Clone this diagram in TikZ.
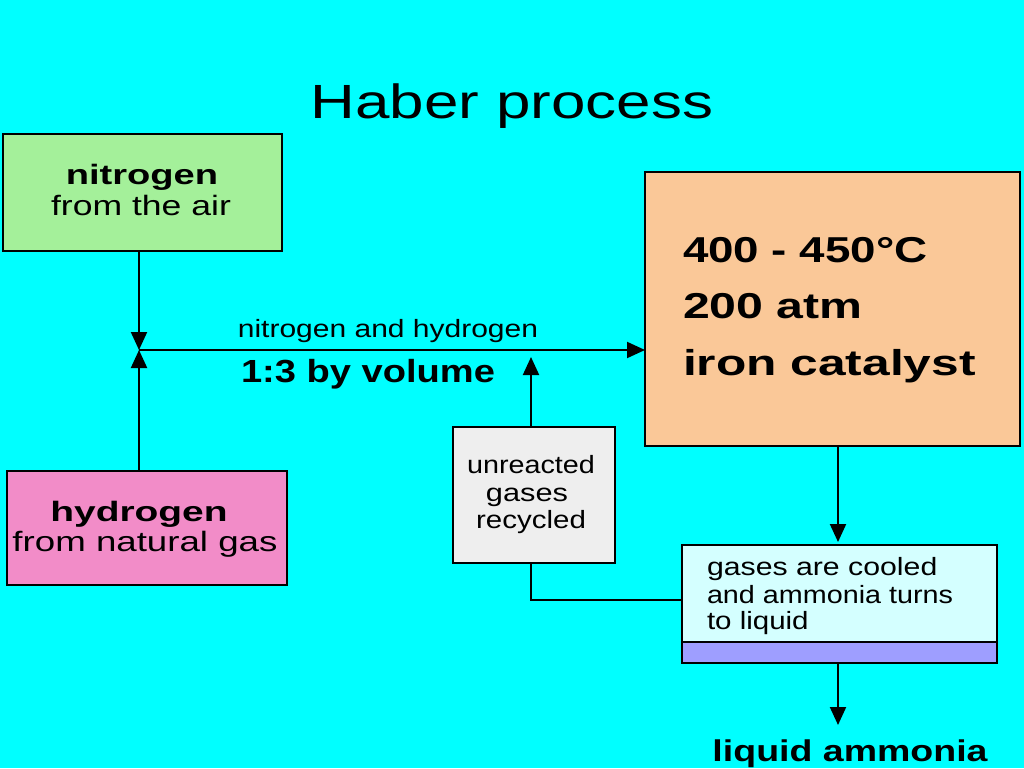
\documentclass[tikz,border=0pt]{standalone}
\usepackage{fontspec}
\setmainfont{Liberation Sans}
\usepackage{graphicx}
\usetikzlibrary{arrows.meta}
\definecolor{bg}{RGB}{0,255,255}
\definecolor{ngreen}{RGB}{164,240,154}
\definecolor{hpink}{RGB}{242,140,200}
\definecolor{opeach}{RGB}{250,200,152}
\definecolor{rgray}{RGB}{238,238,238}
\definecolor{ccyan}{RGB}{212,255,255}
\definecolor{cstrip}{RGB}{158,158,255}
\newcommand{\myfs}[1]{\fontsize{#1}{#1}\selectfont}
\newcommand{\xsc}[2]{\scalebox{#1}[1]{#2}}
\tikzset{
  box/.style={draw=black, line width=2.2pt, rectangle, inner sep=0pt, outer sep=0pt},
  txt/.style={anchor=base, inner sep=0pt, outer sep=0pt, text=black},
  ltxt/.style={anchor=base west, inner sep=0pt, outer sep=0pt, text=black},
  conn/.style={draw=black, line width=2pt},
  arr/.style={conn, -{Triangle[width=16pt,length=18pt]}}
}
\begin{document}
\begin{tikzpicture}[x=1pt,y=-1pt]
\fill[bg] (0,0) rectangle (1024,768);
\useasboundingbox (0,0) rectangle (1024,768);

% title
\node[txt] (title) at (512,118) {\myfs{48}\xsc{1.29}{Haber process}};

% boxes
\node[box, fill=ngreen, minimum width=279pt, minimum height=117pt] (nbox) at (142.5,192.5) {};
\node[box, fill=hpink, minimum width=280pt, minimum height=114pt] (hbox) at (147,528) {};
\node[box, fill=opeach, minimum width=375pt, minimum height=274pt] (obox) at (832.5,309) {};
\node[box, fill=rgray, minimum width=162pt, minimum height=136pt] (rbox) at (534,495) {};
\node[box, fill=ccyan, minimum width=315pt, minimum height=97pt] (cbox) at (839.5,593.5) {};
\node[box, fill=cstrip, minimum width=315pt, minimum height=21pt] (sbox) at (839.5,652.5) {};

% coordinates
\coordinate (junc) at (139,350);
\coordinate (rtip) at (531,357);
\coordinate (rc) at (531,600);
\coordinate (ax) at (838,0);
\coordinate (ltip) at (838,725);

% connectors
\draw[arr] (junc |- nbox.south) -- (junc);
\draw[arr] (junc |- hbox.north) -- (junc);
\draw[arr] (junc) -- (obox.west |- junc);
\draw[arr] (rtip |- rbox.north) -- (rtip);
\draw[conn] (rc |- rbox.south) -- (rc) -- (cbox.west |- rc);
\draw[arr, shorten >=3pt] (ax |- obox.south) -- (ax |- cbox.north);
\draw[arr] (ax |- sbox.south) -- (ltip);

% texts
\node[txt] (t1) at (142,184) {\myfs{28}\bfseries\xsc{1.36}{nitrogen}};
\node[txt] (t2) at (141,215) {\myfs{28}\xsc{1.27}{from the air}};
\node[txt] (t3) at (139,521) {\myfs{28}\bfseries\xsc{1.39}{hydrogen}};
\node[txt] (t4) at (145,551) {\myfs{28}\xsc{1.31}{from natural gas}};

\node[ltxt] (t5) at (683,262) {\myfs{36}\bfseries\xsc{1.27}{400 - 450°C}};
\node[ltxt] (t6) at (683,318) {\myfs{36}\bfseries\xsc{1.34}{200 atm}};
\node[ltxt] (t7) at (683,375) {\myfs{36}\bfseries\xsc{1.38}{iron catalyst}};

\node[txt] (t8) at (388,337) {\myfs{25}\xsc{1.2}{nitrogen and hydrogen}};
\node[txt] (t9) at (368,382) {\myfs{32}\bfseries\xsc{1.19}{1:3 by volume}};

\node[txt] (t10) at (531,473) {\myfs{25}\xsc{1.15}{unreacted}};
\node[txt] (t11) at (527,501) {\myfs{25}\xsc{1.23}{gases}};
\node[txt] (t12) at (531,528) {\myfs{25}\xsc{1.18}{recycled}};

\node[ltxt] (t13) at (707,575) {\myfs{25}\xsc{1.21}{gases are cooled}};
\node[ltxt] (t14) at (707,603) {\myfs{25}\xsc{1.15}{and ammonia turns}};
\node[ltxt] (t15) at (707,629) {\myfs{25}\xsc{1.18}{to liquid}};

\node[txt] (t16) at (850,761) {\myfs{30}\bfseries\xsc{1.25}{liquid ammonia}};
\end{tikzpicture}
\end{document}
